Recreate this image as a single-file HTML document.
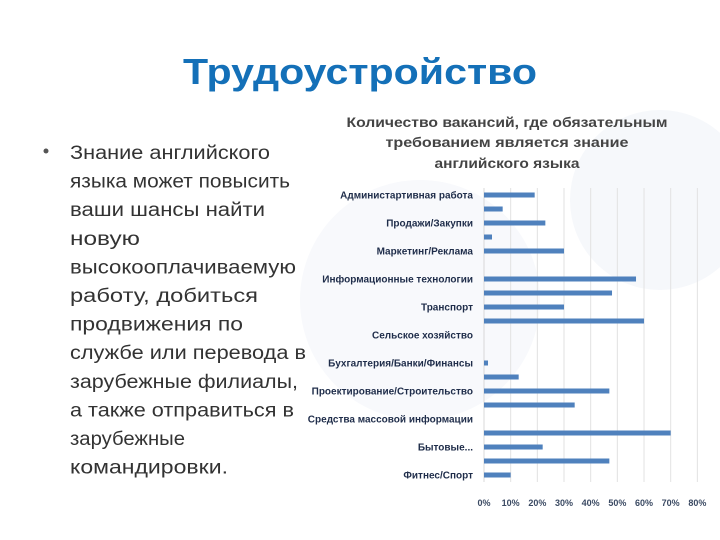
<!DOCTYPE html>
<html><head><meta charset="utf-8"><style>
html,body{margin:0;padding:0;background:#fff;}
svg{display:block;font-family:"Liberation Sans","Noto Sans CJK SC",sans-serif;}
</style></head><body>
<svg id="s" width="720" height="540" viewBox="0 0 720 540">
<rect width="720" height="540" fill="#ffffff"/>
<circle cx="660" cy="200" r="90" fill="#f6f8fb"/>
<circle cx="420" cy="300" r="120" fill="#f8f9fc"/>
<text x="360" y="84" text-anchor="middle" font-size="36" font-weight="bold" fill="#1470b8" textLength="354" lengthAdjust="spacingAndGlyphs">Трудоустройство</text>
<circle cx="46" cy="151" r="2.5" fill="#555"/>
<g id="bl" font-size="19" fill="#333"></g>
<g id="ct" font-size="14" font-weight="bold" fill="#444" text-anchor="middle"></g>
<g id="chart"></g>
</svg>
<script>
const categories=["Администартивная работа","","Продажи/Закупки","","Маркетинг/Реклама","","Информационные технологии","","Транспорт","","Сельское хозяйство","","Бухгалтерия/Банки/Финансы","","Проектирование/Строительство","","Средства массовой информации","","Бытовые...","","Фитнес/Спорт"];
const values=[19,7,23,3,30,0,57,48,30,60,0,0,1.5,13,47,34,0,70,22,47,10];
const tickLabels=["0%","10%","20%","30%","40%","50%","60%","70%","80%"];
const tickValues=[0,10,20,30,40,50,60,70,80];
const NS="http://www.w3.org/2000/svg";
function mk(t,a,p){const e=document.createElementNS(NS,t);for(const k in a)e.setAttribute(k,a[k]);p.appendChild(e);return e;}
const lines=[["Знание английского",200],["языка может повысить",220],["ваши шансы найти",195],["новую",70],["высокооплачиваемую",226],["работу, добиться",188],["продвижения по",173],["службе или перевода в",236],["зарубежные филиалы,",228],["а также отправиться в",224],["зарубежные",115],["командировки.",158]];
const bl=document.getElementById('bl');
lines.forEach((l,i)=>{const t=mk('text',{x:70,y:159+i*28.6,textLength:l[1],lengthAdjust:'spacingAndGlyphs'},bl);t.textContent=l[0];

});
const tl=[["Количество вакансий, где обязательным",321,127],["требованием является знание",243,147],["английского языка",145,168]];
const ct=document.getElementById('ct');
tl.forEach(l=>{const t=mk('text',{x:507,y:l[2],textLength:l[1],lengthAdjust:'spacingAndGlyphs'},ct);t.textContent=l[0];

});
const g=document.getElementById('chart');
const x0=484,pxPer=2.667,yTop=195,pitch=14,barH=5;
const xs=v=>x0+v*pxPer, ys=i=>yTop+i*pitch;
tickValues.forEach((v,i)=>{
 if(v>0){const ln=mk('line',{x1:xs(v),x2:xs(v),y1:188,y2:482,stroke:'#e2e2e2','stroke-width':1},g);
 
 }
 const t=mk('text',{x:xs(v),y:506,'font-size':9,'font-weight':'bold',fill:'#3b4a63','text-anchor':'middle'},g);t.textContent=tickLabels[i];
 
 
});
mk('line',{x1:x0,x2:x0,y1:188,y2:482,stroke:'#d8d8d8'},g);
categories.forEach((c,i)=>{
 if(values[i]>0){const r=mk('rect',{x:x0,y:ys(i)-barH/2,width:values[i]*pxPer,height:barH,fill:'#4f81bd'},g);
 
 }
 if(c){const t=mk('text',{x:473,y:ys(i)+3.5,'font-size':10,'font-weight':'bold',fill:'#1f2d4a','text-anchor':'end'},g);t.textContent=c;
 
 }
});
</script>
</body></html>
